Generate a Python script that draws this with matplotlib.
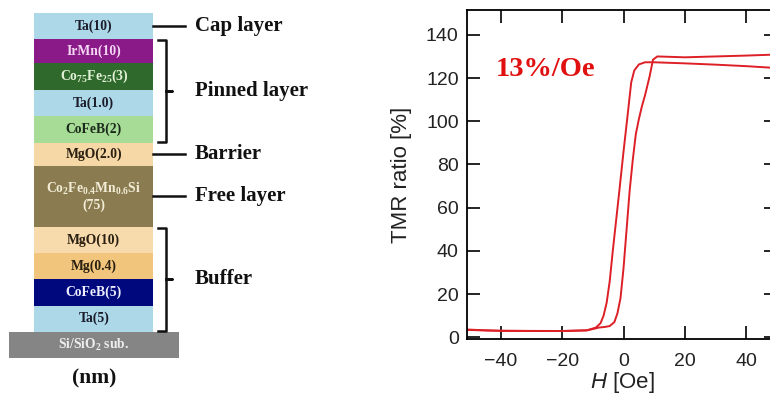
import matplotlib
matplotlib.use("Agg")
import matplotlib.pyplot as plt
import numpy as np

plt.rcParams['mathtext.fontset'] = 'custom'
plt.rcParams['mathtext.rm'] = 'Liberation Serif:bold'
plt.rcParams['mathtext.bf'] = 'Liberation Serif:bold'
plt.rcParams['mathtext.it'] = 'Liberation Sans:italic'

# ---- film stack (top to bottom), thickness in nm inside the labels ----
layer_names = ["Ta(10)", "IrMn(10)", "Co$_{75}$Fe$_{25}$(3)", "Ta(1.0)", "CoFeB(2)",
               "MgO(2.0)", "Co$_2$Fe$_{0.4}$Mn$_{0.6}$Si\n(75)",
               "MgO(10)", "Mg(0.4)", "CoFeB(5)", "Ta(5)"]
layer_colors = ["#add8e8", "#8a1a88", "#2f6a2c", "#add8e8", "#a6dc96",
                "#f6d7a6", "#8a7c50", "#f7dbac", "#f1c67c", "#00087e", "#add8e8"]
layer_text = ["#1b1b2a", "#f4d6f2", "#e4f2d8", "#1b1b2a", "#1b2a1b",
              "#2a1f10", "#f2ecd6", "#2a1f10", "#2a1f10", "#eeeeff", "#1b1b2a"]
substrate = "Si/SiO$_2$ sub."

# groups: (label, first layer, last layer)
groups = [("Cap layer", 0, 0), ("Pinned layer", 1, 4), ("Barrier", 5, 5),
          ("Free layer", 6, 6), ("Buffer", 7, 10)]

# ---- TMR minor loop ----
h_dn = [-51, -45, -40, -30, -20, -12, -9, -7.5, -6.5, -5.5, -4.5, -3.5, -2.5,
        -1.5, 0, 1.5, 2.5, 3.5, 5, 7, 10, 20, 30, 40, 48]
tmr_dn = [3.6, 3.2, 3.0, 2.9, 2.9, 3.2, 4.5, 6.5, 10, 16, 26, 40, 53,
          66, 86, 105, 118, 123.5, 126.3, 127.3, 127.3, 126.8, 126.2, 125.5, 124.8]
h_up = [-51, -40, -20, -12, -10, -8, -6, -4.5, -3, -2, -1, 0, 1, 2, 3, 4, 5,
        6, 7, 8.5, 9.6, 11, 20, 30, 40, 48]
tmr_up = [3.4, 3.0, 2.9, 3.2, 3.8, 4.5, 4.8, 5.2, 7, 11, 18, 32, 50, 68, 82,
          94, 101, 107, 112, 120.8, 128.5, 130, 129.6, 130.0, 130.4, 130.8]
slope_label = "13%/Oe"

fig = plt.figure(figsize=(7.7, 3.96), dpi=100)

# left panel works in pixel units
ax0 = fig.add_axes([0, 0, 1, 1])
ax0.set_xlim(0, 770)
ax0.set_ylim(396, 0)
ax0.axis("off")

row_h = np.array([26.3, 24.3, 26.7, 26, 26.7, 23, 61, 26.6, 26, 26.4, 26])
stack_top, stack_left, stack_w = 12.7, 34.3, 119
edges = stack_top + np.concatenate([[0], np.cumsum(row_h)])
centers = (edges[:-1] + edges[1:]) / 2
ax0.barh(centers, stack_w, left=stack_left, height=row_h, color=layer_colors)
serif = dict(family="Liberation Serif", weight="bold")
for c, name, tc in zip(centers, layer_names, layer_text):
    ax0.text(stack_left + stack_w / 2, c, name, ha="center", va="center",
             fontsize=9.8, color=tc, linespacing=1.1, **serif)

sub_h = 26
sub_c = edges[-1] + sub_h / 2
ax0.barh([sub_c], [169.7], left=9.3, height=sub_h, color="#858585")
ax0.text(94, sub_c, substrate, ha="center", va="center", fontsize=9.8,
         color="#eeeeee", **serif)
ax0.text(94, 378, "(nm)", ha="center", va="center", fontsize=15.5,
         color="#111111", **serif)

stack_right = stack_left + stack_w
for label, i0, i1 in groups:
    top, bot = edges[i0], edges[i1 + 1]
    mid = (top + bot) / 2
    if i0 == i1:
        ax0.plot([stack_right, 185], [mid, mid], color="#111111", lw=1.8)
    else:
        bx, tx = 165.5, 172
        ax0.plot([158, bx, bx, tx, bx, bx, 158],
                 [top + 1, top + 1, mid, mid, mid, bot - 1, bot - 1],
                 color="#111111", lw=1.8, solid_joinstyle="round")
    ax0.text(195, mid, label, ha="left", va="center", fontsize=15,
             color="#111111", **serif)

# right panel: TMR ratio vs field
ax = fig.add_axes([467 / 770, 57 / 396, 310 / 770, 329 / 396])
red = "#dd1f26"
ax.plot(h_up, tmr_up, color=red, lw=1.4)
ax.plot(h_dn, tmr_dn, color=red, lw=1.4)
ax.set_xlim(-51, 50)
ax.set_ylim(-0.8, 151.5)
ax.set_xticks([-40, -20, 0, 20, 40])
ax.set_yticks(range(0, 141, 20))
ax.tick_params(direction="in", length=9.5, width=1.2, top=True, right=True,
               labelsize=14, labelcolor="#222222")
ax.tick_params(axis="x", pad=10)
ax.tick_params(axis="y", pad=6)
for s in ax.spines.values():
    s.set_linewidth(1.3)
ax.set_xticklabels(["\u221240", "\u221220", "0", "20", "40"])
for lab in ax.get_xticklabels() + ax.get_yticklabels():
    lab.set_family("Liberation Sans")
ax.set_xlabel("$H$ [Oe]", fontsize=16, family="Liberation Sans",
              color="#222222", labelpad=0)
ax.set_ylabel("TMR ratio [%]", fontsize=16, family="Liberation Sans",
              color="#222222", labelpad=10)
ax.text(-41.5, 124, slope_label, color="#e01010", fontsize=20.5,
        ha="left", va="center", **serif)

fig.savefig("out.png", dpi=100)
